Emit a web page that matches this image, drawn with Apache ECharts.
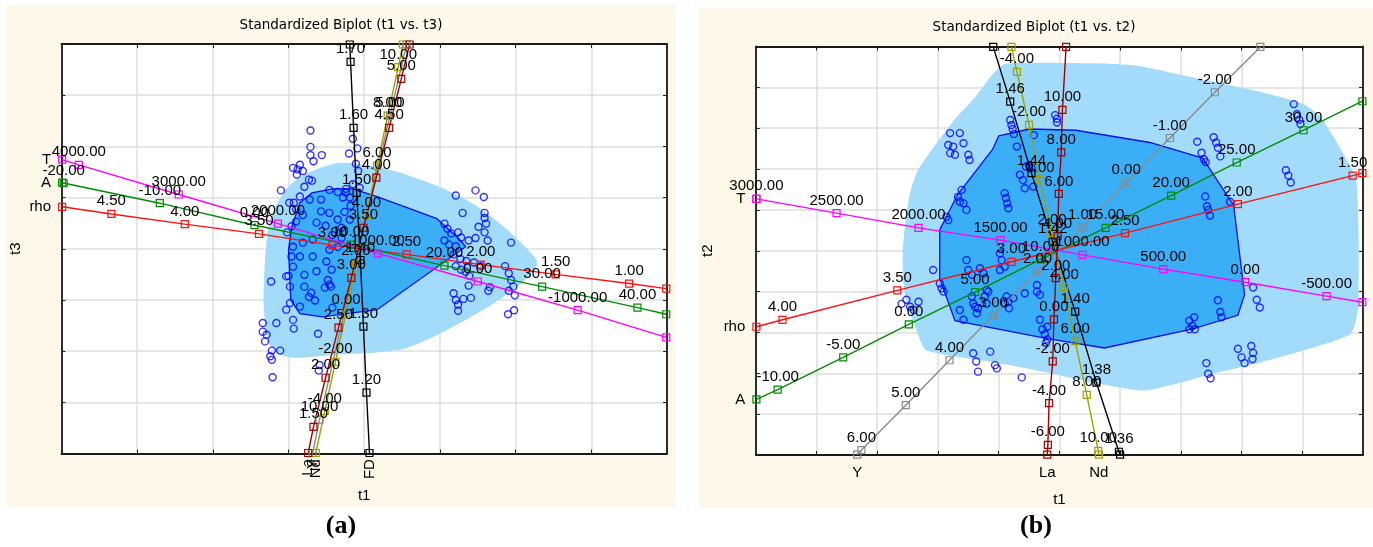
<!DOCTYPE html>
<html><head><meta charset="utf-8">
<script src="https://cdn.jsdelivr.net/npm/echarts@6/dist/echarts.min.js"></script>
<style>
html,body{margin:0;padding:0;background:#fff;}
#wrap{position:relative;width:1373px;height:547px;}
.panel{position:absolute;background:#fdf8ea;}
#c{position:absolute;left:0;top:0;width:1373px;height:547px;}
</style>
</head><body>
<div id="wrap">
<div class="panel" style="left:6px;top:5px;width:670px;height:502px"></div>
<div class="panel" style="left:699px;top:8px;width:674px;height:500px"></div>
<div id="c"></div>
</div>
<script>
// ---------------- Panel (a): t1 vs t3 ----------------
const aT_ticks = ['4000.00','3000.00','2000.00','1000.00','0.00','-1000.00'];
const aT_pts = [[-3.77,1.64],[-2.45,1.06],[-1.14,0.49],[0.18,-0.09],[1.50,-0.64],[2.82,-1.20]];
const aT_ends = [[-3.99,1.74],[3.99,-1.73]];

const aA_ticks = ['-20.00','-10.00','0.00','10.00','20.00','30.00','40.00'];
const aA_pts = [[-3.97,1.28],[-2.70,0.89],[-1.45,0.46],[-0.18,0.08],[1.06,-0.33],[2.35,-0.74],[3.61,-1.15]];
const aA_ends = [[-3.99,1.29],[3.99,-1.28]];

const aRho_ticks = ['4.50','4.00','3.50','3.00','2.50','2.00','1.50','1.00'];
const aRho_pts = [[-3.34,0.68],[-2.37,0.48],[-1.39,0.29],[-0.42,0.07],[0.56,-0.11],[1.54,-0.31],[2.53,-0.50],[3.50,-0.68]];
const aRho_ends = [[-3.99,0.82],[3.99,-0.78]];

const aFD_ticks = ['1.70','1.60','1.50','1.40','1.30','1.20'];
const aFD_pts = [[-0.18,3.65],[-0.14,2.36],[-0.10,1.09],[-0.05,-0.22],[-0.01,-1.52],[0.03,-2.81]];
const aFD_ends = [[-0.19,3.99],[0.07,-3.99]];

const aLa_ticks = ['5.00','4.50','4.00','3.50','3.00','2.50','2.00','1.50'];
const aLa_pts = [[0.49,3.32],[0.33,2.36],[0.16,1.39],[-0.01,0.41],[-0.17,-0.57],[-0.34,-1.54],[-0.51,-2.52],[-0.67,-3.48]];
const aLa_ends = [[0.60,3.99],[-0.74,-3.99]];

const aNd_ticks = ['10.00','8.00','6.00','4.00','2.00','0.00','-2.00','-4.00'];
const aNd_pts = [[0.45,3.55],[0.31,2.60],[0.17,1.62],[0.03,0.66],[-0.11,-0.29],[-0.24,-1.25],[-0.38,-2.21],[-0.52,-3.17]];
const aNd_ends = [[0.51,3.99],[-0.64,-3.99]];

const aY_ticks = ['5.00','10.00'];
const aY_pts = [[0.34,2.60],[-0.59,-3.34]];
const aY_ends = [[0.56,3.99],[-0.68,-3.99]];

const aHullOuter = [[-0.32,1.68],[0.07,1.62],[0.40,1.52],[0.96,1.23],[1.46,0.86],[1.86,0.41],[2.16,-0.02],[2.29,-0.29],[2.06,-0.70],[1.72,-1.06],[1.39,-1.35],[1.00,-1.66],[0.54,-1.95],[0.14,-2.03],[-0.39,-2.07],[-0.92,-2.13],[-1.13,-2.05],[-1.25,-1.86],[-1.30,-1.58],[-1.33,-1.00],[-1.31,-0.21],[-1.27,0.37],[-1.18,0.80],[-0.98,1.25],[-0.72,1.50]];
const aHullInner = [[-0.85,0.90],[-0.69,1.09],[-0.42,1.17],[-0.15,1.17],[0.17,1.02],[0.96,0.59],[1.26,0.18],[1.34,0.04],[0.17,-1.19],[-0.55,-1.33],[-0.85,-1.27],[-0.97,-1.00],[-1.00,-0.02],[-0.96,0.41]];

const aPoints = [
[-0.71,2.31],[-0.71,1.99],[-0.71,1.83],[-0.56,1.83],[-0.67,1.71],[-0.88,1.55],[-0.81,1.52],[-0.89,1.45],[-0.69,1.33],
[-0.15,2.15],[-0.09,1.96],[-0.20,1.86],[-0.11,1.66],[-0.08,1.52],[-0.24,1.17],[-0.15,1.26],[-0.06,1.19],
[-0.94,1.58],[-0.85,1.64],[-0.73,1.35],[-0.79,1.21],[-0.85,1.02],[-0.93,0.90],[-0.72,0.96],[-0.57,0.96],[-0.46,1.15],[-0.35,1.11],[-0.24,1.10],[-0.28,1.00],[-0.19,1.00],
[-0.57,0.73],[-0.46,0.70],[-0.81,0.66],[-0.90,0.53],[-0.96,0.44],[-0.63,0.51],[-0.51,0.45],[-0.35,0.57],[-0.19,0.57],[-0.30,0.41],[-0.42,0.27],[-0.30,0.21],[-0.35,0.04],[-0.46,-0.02],[-0.68,0.18],[-0.81,0.12],[-0.94,0.04],
[-0.96,-0.15],[-0.85,-0.15],[-0.68,-0.15],[-0.50,-0.25],[-0.43,-0.41],[-0.63,-0.44],[-0.79,-0.51],[-0.94,-0.35],[-1.03,-0.54],[-0.98,-0.74],[-0.79,-0.74],[-0.70,-0.86],[-0.48,-0.61],[-0.46,-0.70],[-0.52,-0.76],[-0.98,-1.06],[-0.85,-1.13],[-1.03,-1.19],
[-1.23,-0.64],[-1.34,-1.45],[-1.34,-1.62],[-1.29,-1.68],[-1.31,-1.81],[-1.16,-1.45],[-1.22,-1.99],[-1.24,-2.10],[-1.22,-2.17],[-1.11,-1.99],[-1.21,-2.51],[-0.61,-1.66],[-0.59,-2.27],[-0.60,-2.38],[-0.94,-1.39],[-0.93,-1.56],[-0.73,-0.94],[-0.65,-1.01],[-1.00,-0.53],
[1.21,1.04],[1.47,1.14],[1.58,1.01],[1.30,0.70],[1.59,0.70],[1.59,0.60],[1.61,0.49],[1.06,0.49],[1.10,0.39],[1.15,0.30],[1.24,0.32],[1.28,0.22],[1.06,0.16],[1.12,0.08],[1.21,0.05],[1.38,0.16],[1.47,0.21],[1.51,0.43],[1.59,0.32],[1.63,0.16],[1.94,0.12],
[1.18,-0.11],[1.27,-0.20],[1.35,-0.24],[1.45,-0.27],[1.54,-0.34],[1.21,-0.34],[1.28,-0.41],[1.34,-0.45],[1.39,-0.53],[1.86,-0.34],[1.91,-0.48],[1.94,-0.61],[1.97,-0.74],[1.91,-0.82],[1.99,-0.91],
[1.18,-0.87],[1.21,-1.00],[1.31,-0.98],[1.41,-0.96],[1.24,-1.09],[1.24,-1.21],[1.90,-1.28],[1.98,-1.20],[1.66,-0.75],[1.64,-0.82],[1.38,-0.72],
[-0.42,-1.15],[-0.44,-0.74],[-0.18,0.84],[-0.26,0.72],[-1.10,1.14],[-0.99,0.90],[-0.90,0.77],[-1.02,0.32]
];

// ---------------- Panel (b): t1 vs t2 ----------------
const bT_ticks = ['3000.00','2500.00','2000.00','1500.00','1000.00','500.00','0.00','-500.00'];
const bT_pts = [[-4.99,1.27],[-3.67,0.92],[-2.32,0.56],[-0.97,0.26],[0.38,-0.10],[1.71,-0.45],[3.06,-0.77],[4.40,-1.11]];
const bT_ends = [[-4.99,1.27],[4.99,-1.26]];

const bRho_ticks = ['4.00','3.50','3.00','2.50','2.00','1.50'];
const bRho_pts = [[-4.56,-1.69],[-2.67,-0.97],[-0.79,-0.27],[1.08,0.43],[2.94,1.14],[4.83,1.84]];
const bRho_ends = [[-4.99,-1.86],[4.99,1.90]];

const bA_ticks = ['-10.00','-5.00','0.00','5.00','10.00','15.00','20.00','25.00','30.00'];
const bA_pts = [[-4.64,-3.40],[-3.56,-2.61],[-2.48,-1.80],[-1.39,-1.01],[-0.31,-0.21],[0.76,0.56],[1.84,1.35],[2.92,2.16],[4.02,2.95]];
const bA_ends = [[-4.99,-3.64],[4.99,3.66]];

const bY_ticks = ['6.00','5.00','4.00','3.00','2.00','1.00','0.00','-1.00','-2.00'];
const bY_pts = [[-3.26,-4.88],[-2.53,-3.78],[-1.81,-2.68],[-1.09,-1.58],[-0.36,-0.50],[0.38,0.57],[1.10,1.67],[1.82,2.76],[2.56,3.88]];
const bY_ends = [[-3.33,-4.99],[3.31,4.99]];

const bLa_ticks = ['10.00','8.00','6.00','4.00','2.00','0.00','-2.00','-4.00','-6.00'];
const bLa_pts = [[0.05,3.45],[0.03,2.41],[-0.01,1.39],[-0.03,0.36],[-0.06,-0.67],[-0.09,-1.68],[-0.11,-2.71],[-0.17,-3.73],[-0.19,-4.75]];
const bLa_ends = [[0.11,4.99],[-0.20,-4.99]];

const bNd_ticks = ['-4.00','-2.00','0.00','2.00','4.00','6.00','8.00','10.00'];
const bNd_pts = [[-0.70,4.38],[-0.50,3.08],[-0.32,1.73],[-0.12,0.44],[0.08,-0.89],[0.26,-2.21],[0.45,-3.53],[0.64,-4.90]];
const bNd_ends = [[-0.79,4.99],[0.65,-4.99]];

const bFD_ticks = ['1.46','1.44','1.42','1.40','1.38','1.36'];
const bFD_pts = [[-0.81,3.65],[-0.46,1.90],[-0.11,0.22],[0.26,-1.49],[0.61,-3.23],[0.98,-4.92]];
const bFD_ends = [[-1.09,4.99],[1.00,-4.99]];

const bHullOuter = [[-1.10,4.32],[-0.89,4.58],[0.56,4.59],[1.28,4.53],[2.36,4.19],[3.30,3.89],[4.02,3.59],[4.31,3.25],[4.60,2.57],[4.89,1.71],[4.92,-1.37],[4.78,-2.05],[3.30,-2.74],[2.58,-2.99],[1.42,-3.42],[0.63,-3.25],[-0.17,-2.99],[-1.03,-2.74],[-2.19,-2.44],[-2.33,-2.05],[-2.55,-1.03],[-2.58,0.00],[-2.48,1.28],[-2.33,1.97],[-1.75,3.17],[-1.39,3.76]];
const bHullInner = [[-1.00,2.81],[-0.49,2.98],[0.27,2.95],[1.49,2.65],[2.36,2.27],[2.87,1.11],[3.05,-1.07],[2.94,-1.58],[2.18,-1.92],[0.74,-2.38],[-0.24,-2.14],[-1.72,-1.71],[-1.97,-0.68],[-1.97,0.51],[-1.68,1.37],[-1.10,2.48]];

const bPoints = [
[-1.80,2.88],[-1.64,2.88],[-1.83,2.59],[-1.75,2.55],[-1.58,2.63],[-1.80,2.39],[-1.72,2.35],[-1.50,2.35],[-1.48,2.22],
[-1.61,1.49],[-1.67,1.32],[-1.64,1.20],[-1.58,1.16],[-1.53,1.00],[-1.86,0.83],[-1.83,0.75],
[-0.81,3.20],[-0.79,3.08],[-0.77,2.98],[-0.75,2.86],[-0.42,2.83],[-0.07,3.32],[-0.04,3.23],[-0.04,3.14],
[-0.90,1.41],[-0.88,1.29],[-0.86,1.16],[-0.84,1.04],[-0.65,1.86],[-0.60,1.73],[-0.57,1.53],[-0.43,1.57],[-0.55,2.06],[-0.50,2.10],[-0.46,2.02],[-0.70,2.55],
[-1.53,-0.23],[-1.50,-0.47],[-1.44,-0.59],[-1.31,-0.43],[-1.25,-0.55],[-1.20,-0.96],[-1.17,-1.00],[-1.44,-1.12],[-1.42,-1.29],[-1.34,-1.41],[-1.64,-1.45],[-1.58,-1.69],[-1.97,-0.80],[-1.94,-0.92],[-1.91,-1.00],[-2.08,-0.47],[-2.52,-1.20],[-2.46,-1.37],[-2.32,-1.25],[-2.60,-1.30],[-2.40,-1.45],
[-0.98,-0.47],[-0.90,-0.39],[-0.95,-0.23],[-0.87,-1.12],[-0.90,-1.29],[-0.37,-0.84],[-0.76,-1.16],[-0.57,-1.04],[-0.98,-0.06],
[-0.84,-1.25],[-0.83,-1.41],[-1.23,-1.12],[-1.20,-1.29],[-1.39,-1.37],[-1.36,-1.53],
[-0.37,-1.00],[-0.32,-1.08],[-0.28,-1.92],[-0.24,-2.04],[-0.20,-2.17],[-0.20,-1.86],[-0.22,-2.26],[-0.32,-1.69],
[-1.42,-2.51],[-1.37,-2.71],[-1.14,-2.47],[-1.06,-2.80],[-1.03,-2.88],[-1.34,-2.96],[-0.62,-3.10],
[2.27,2.67],[2.34,2.40],[2.38,2.24],[2.41,2.17],[2.54,2.78],[2.58,2.65],[2.61,2.52],[2.65,2.31],[3.86,3.59],[3.91,3.34],[3.95,3.21],[3.97,3.10],[3.73,1.97],[3.77,1.84],[3.81,1.67],
[2.40,1.33],[2.43,1.09],[2.45,1.00],[2.48,0.86],[2.81,1.20],[3.19,-0.90],[3.25,-1.20],[3.30,-1.39],
[2.61,-1.21],[2.65,-1.50],[2.67,-1.63],[2.14,-1.71],[2.19,-1.84],[2.23,-1.92],[2.14,-1.92],[2.22,-1.63],
[2.94,-2.40],[3.00,-2.61],[3.05,-2.75],[3.16,-2.33],[3.19,-2.50],[3.18,-2.65],[2.42,-2.75],[2.45,-3.01],[2.49,-3.12]
];

// ---------------- styling / assembly ----------------
const FONT = 'Liberation Sans';
const FS = 15;
const C = {mag:'#ff00ff', grn:'#008c00', red:'#ff1010', dred:'#a00000', olv:'#a0a000', gry:'#8a8a8a', blk:'#000000'};

const aVars = [
  {name:'rho', ticks:aRho_ticks, pts:aRho_pts, ends:aRho_ends, color:C.red, nameAt:0, side:'left'},
  {name:'A', ticks:aA_ticks, pts:aA_pts, ends:aA_ends, color:C.grn, nameAt:0, side:'left'},
  {name:'T', ticks:aT_ticks, pts:aT_pts, ends:aT_ends, color:C.mag, nameAt:0, side:'left'},
  {name:'FD', ticks:aFD_ticks, pts:aFD_pts, ends:aFD_ends, color:C.blk, nameAt:1, side:'bottomRot'},
  {name:'Y', ticks:aY_ticks, pts:aY_pts, ends:aY_ends, color:C.gry, nameAt:1, side:'bottomRot'},
  {name:'Nd', ticks:aNd_ticks, pts:aNd_pts, ends:aNd_ends, color:C.olv, nameAt:1, side:'bottomRot'},
  {name:'La', ticks:aLa_ticks, pts:aLa_pts, ends:aLa_ends, color:C.dred, nameAt:1, side:'bottomRot'}
];
const bVars = [
  {name:'Y', ticks:bY_ticks, pts:bY_pts, ends:bY_ends, color:C.gry, nameAt:0, side:'bottom'},
  {name:'A', ticks:bA_ticks, pts:bA_pts, ends:bA_ends, color:C.grn, nameAt:0, side:'left'},
  {name:'rho', ticks:bRho_ticks, pts:bRho_pts, ends:bRho_ends, color:C.red, nameAt:0, side:'left'},
  {name:'T', ticks:bT_ticks, pts:bT_pts, ends:bT_ends, color:C.mag, nameAt:0, side:'left'},
  {name:'', ticks:bFD_ticks, pts:bFD_pts, ends:bFD_ends, color:C.blk, nameAt:-1, side:'none'},
  {name:'Nd', ticks:bNd_ticks, pts:bNd_pts, ends:bNd_ends, color:C.olv, nameAt:1, side:'bottom'},
  {name:'La', ticks:bLa_ticks, pts:bLa_pts, ends:bLa_ends, color:C.dred, nameAt:1, side:'bottom'}
];

function nameLabel(v){
  const base = {show:true, formatter:v.name, color:'#000', fontFamily:FONT, fontSize:FS};
  if (v.side==='left') return Object.assign(base,{position:'left', distance:7});
  if (v.side==='bottom') return Object.assign(base,{position:'bottom', distance:7});
  if (v.side==='bottomRot') return Object.assign(base,{position:'bottom', distance:2, rotate:90, align:'right', verticalAlign:'middle'});
  return {show:false};
}

function biplotSeries(gi, v){
  const data = [];
  data.push({value:v.ends[0], label: v.nameAt===0 ? nameLabel(v) : {show:false}});
  v.pts.forEach((p,i)=>data.push({value:p, label:{show:true, formatter:v.ticks[i]}}));
  data.push({value:v.ends[1], label: v.nameAt===1 ? nameLabel(v) : {show:false}});
  return {
    type:'line', xAxisIndex:gi*2, yAxisIndex:gi*2, data, z:5,
    symbol:'rect', symbolSize:7, showAllSymbol:true, clip:true, silent:true,
    lineStyle:{color:v.color, width:1.4},
    itemStyle:{color:'rgba(255,255,255,0)', borderColor:v.color, borderWidth:1.2},
    label:{show:false, position:'top', distance:1, color:'#000', fontFamily:FONT, fontSize:FS},
    emphasis:{disabled:true}, animation:false
  };
}

function hullSeries(gi, pts, fill, stroke, smooth, z){
  return {
    type:'custom', xAxisIndex:gi*2, yAxisIndex:gi*2, data:pts, z, clip:true, silent:true,
    renderItem:function(params, api){
      if (params.dataIndex!==0) return null;
      const points = pts.map(p=>api.coord(p));
      return {type:'polygon', shape:{points, smooth}, style:{fill, stroke: stroke||null, lineWidth: stroke?1.3:0}};
    },
    animation:false
  };
}

function scatterSeries(gi, pts){
  return {type:'scatter', xAxisIndex:gi*2, yAxisIndex:gi*2, data:pts, z:3, clip:true, silent:true,
    symbol:'circle', symbolSize:7,
    itemStyle:{color:'rgba(0,0,0,0)', borderColor:'#0000ff', borderWidth:1.4},
    emphasis:{disabled:true}, animation:false};
}

const frame = {color:'#1a1a1a', width:1.8};
function xAx(gi, lim, name, gap){
  return [
    {type:'value', gridIndex:gi, min:-lim, max:lim, interval:1, position:'bottom',
     axisLabel:{show:false}, axisLine:{show:true, onZero:false, lineStyle:frame},
     axisTick:{show:true, inside:true, length:4, lineStyle:{color:'#222'}},
     splitLine:{show:true, lineStyle:{color:'#dedede', width:1.5}},
     name, nameLocation:'middle', nameGap:gap, nameTextStyle:{fontFamily:FONT, fontSize:FS, color:'#000'}},
    {type:'value', gridIndex:gi, min:-lim, max:lim, interval:1, position:'top',
     axisLabel:{show:false}, axisLine:{show:true, onZero:false, lineStyle:frame},
     axisTick:{show:true, inside:true, length:4, lineStyle:{color:'#222'}}, splitLine:{show:false}}
  ];
}
function yAx(gi, lim, name, gap){
  return [
    {type:'value', gridIndex:gi, min:-lim, max:lim, interval:1, position:'left',
     axisLabel:{show:false}, axisLine:{show:true, onZero:false, lineStyle:frame},
     axisTick:{show:true, inside:true, length:4, lineStyle:{color:'#222'}},
     splitLine:{show:true, lineStyle:{color:'#dedede', width:1.5}},
     name, nameLocation:'middle', nameGap:gap, nameRotate:90, nameTextStyle:{fontFamily:FONT, fontSize:FS, color:'#000'}},
    {type:'value', gridIndex:gi, min:-lim, max:lim, interval:1, position:'right',
     axisLabel:{show:false}, axisLine:{show:true, onZero:false, lineStyle:frame},
     axisTick:{show:true, inside:true, length:4, lineStyle:{color:'#222'}}, splitLine:{show:false}}
  ];
}

const series = [
  hullSeries(0, aHullOuter, '#a3dcfa', null, 0.25, 1),
  hullSeries(0, aHullInner, '#3aaff8', '#0a10e8', 0, 2),
  scatterSeries(0, aPoints),
  ...aVars.map(v=>biplotSeries(0, v)),
  hullSeries(1, bHullOuter, '#a3dcfa', null, 0.2, 1),
  hullSeries(1, bHullInner, '#3aaff8', '#0a10e8', 0, 2),
  scatterSeries(1, bPoints),
  ...bVars.map(v=>biplotSeries(1, v))
];

const chart = echarts.init(document.getElementById('c'), null, {renderer:'canvas'});
chart.setOption({
  backgroundColor:'transparent',
  animation:false,
  grid:[
    {left:61.4, top:44, width:605.6, height:409.5, show:true, backgroundColor:'#ffffff', borderWidth:0},
    {left:755.8, top:46.5, width:607.2, height:408.5, show:true, backgroundColor:'#ffffff', borderWidth:0}
  ],
  xAxis:[...xAx(0,4,'t1',35), ...xAx(1,5,'t1',37)],
  yAxis:[...yAx(0,4,'t3',38), ...yAx(1,5,'t2',40)],
  graphic:[
    {type:'text', x:341, y:25, style:{text:'Standardized Biplot (t1 vs. t3)', font:'13.5px "DejaVu Sans"', fill:'#000', align:'center', verticalAlign:'middle'}},
    {type:'text', x:1034, y:27, style:{text:'Standardized Biplot (t1 vs. t2)', font:'13.5px "DejaVu Sans"', fill:'#000', align:'center', verticalAlign:'middle'}},
    {type:'text', x:341, y:526, style:{text:'(a)', font:'bold 26px "Liberation Serif"', fill:'#000', align:'center', verticalAlign:'middle'}},
    {type:'text', x:1036, y:526, style:{text:'(b)', font:'bold 26px "Liberation Serif"', fill:'#000', align:'center', verticalAlign:'middle'}}
  ],
  series
});
</script>
</body></html>
